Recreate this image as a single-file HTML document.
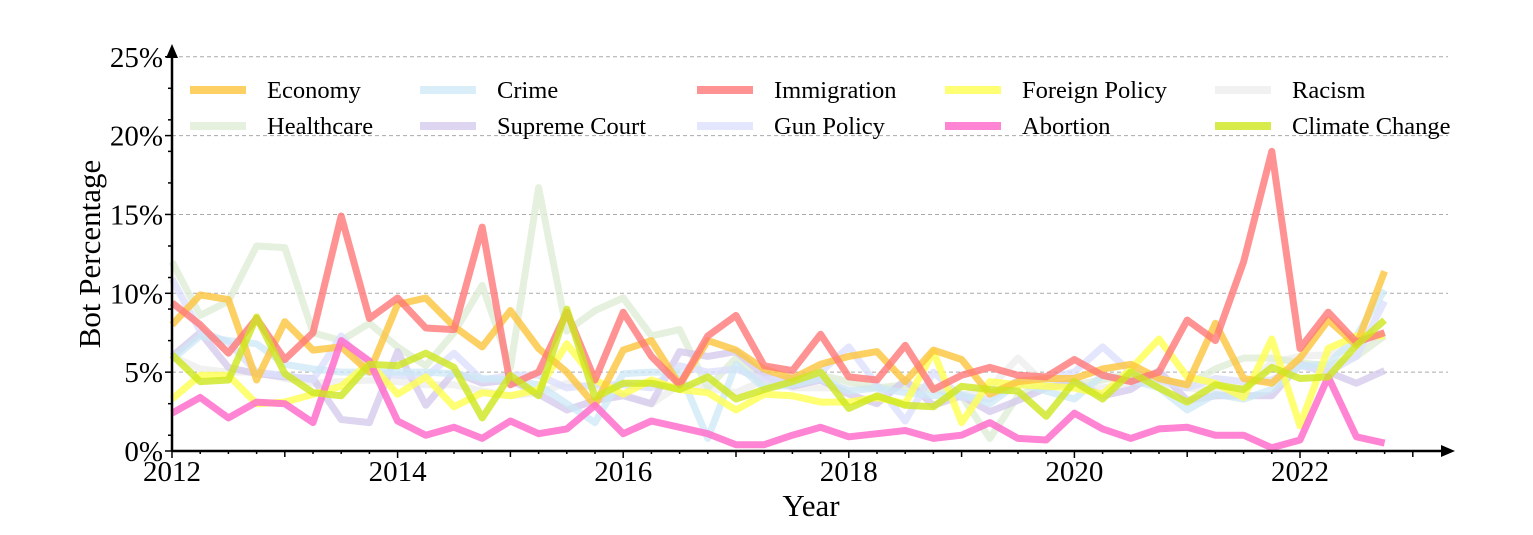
<!DOCTYPE html>
<html><head><meta charset="utf-8"><style>
body{margin:0;background:#fff}
svg text{font-family:"Liberation Serif",serif;fill:#000}
</style></head><body>
<svg id="chart" width="1533" height="530" xmlns="http://www.w3.org/2000/svg">
<g id="grid"></g>
<g id="series"></g>
<g id="axes"></g>
<g id="legend"></g>
<text x="0" y="0" font-size="31" text-anchor="middle" transform="translate(100,254) rotate(-90)">Bot Percentage</text>
<text x="811" y="516" font-size="31" text-anchor="middle">Year</text>
</svg>
<script>
const startYear = 2012;
const yTicks = [0,5,10,15,20,25];
const xTickYears = [2012,2014,2016,2018,2020,2022];
const seriesNames = ["Economy","Healthcare","Crime","Supreme Court","Immigration","Gun Policy","Foreign Policy","Abortion","Racism","Climate Change"];
const economy = [8.0,9.9,9.6,4.5,8.2,6.4,6.6,5.0,9.3,9.7,7.9,6.6,8.9,6.5,5.0,2.9,6.4,7.0,4.2,7.0,6.4,5.2,4.6,5.5,6.0,6.3,4.4,6.4,5.8,3.6,4.4,4.6,4.6,5.2,5.5,4.6,4.2,8.1,4.6,4.3,5.9,8.3,6.7,11.4];
const healthcare = [12.0,8.6,9.5,13.0,12.9,7.5,7.0,8.1,6.6,5.4,7.5,10.5,5.3,16.7,7.6,8.9,9.7,7.3,7.7,4.0,5.9,4.1,4.5,4.8,4.4,4.0,4.2,3.9,3.5,0.8,3.5,4.3,4.2,4.5,4.9,4.5,4.2,5.2,5.9,5.9,5.6,5.4,6.0,7.3];
const crime = [5.8,7.3,7.0,6.8,5.5,5.2,5.0,5.0,5.0,5.0,4.9,4.6,4.5,4.2,3.0,1.8,4.9,5.0,5.0,0.8,5.5,4.0,4.2,4.6,3.8,4.0,3.7,3.5,3.6,3.0,4.3,3.8,3.3,4.8,4.5,4.0,2.6,3.6,3.3,3.9,5.4,5.5,7.3,10.2];
const supremeCourt = [6.0,7.5,5.3,4.9,4.7,4.6,2.0,1.8,6.3,2.9,5.0,4.3,4.5,3.6,2.6,3.2,3.5,3.0,6.3,6.0,6.3,4.8,4.1,4.5,3.6,3.0,4.5,2.9,3.5,2.5,3.2,4.0,4.4,3.5,3.9,5.1,3.2,3.5,3.5,3.5,5.5,5.0,4.3,5.1];
const immigration = [9.4,8.0,6.2,8.4,5.8,7.5,14.9,8.4,9.7,7.8,7.7,14.2,4.2,5.0,8.8,4.5,8.8,6.0,4.2,7.3,8.6,5.4,5.1,7.4,4.7,4.5,6.7,3.9,4.8,5.3,4.8,4.7,5.8,4.8,4.4,5.0,8.3,7.0,12.0,19.0,6.5,8.8,6.9,7.5];
const gunPolicy = [10.9,7.6,6.9,5.0,4.8,4.5,7.3,5.0,4.8,4.7,6.2,4.5,4.8,4.8,4.0,4.2,4.2,4.0,5.4,5.0,5.2,4.5,4.6,5.0,6.6,4.2,1.9,5.0,3.4,3.3,4.5,4.6,5.0,6.6,5.0,4.5,4.0,4.6,4.4,4.5,5.4,5.0,6.0,9.5];
const foreignPolicy = [3.3,4.8,4.8,3.0,3.1,3.6,4.1,5.6,3.6,4.7,2.8,3.7,3.5,3.9,6.8,4.5,3.6,4.5,3.9,3.7,2.6,3.6,3.5,3.1,3.1,3.4,3.0,6.3,1.8,4.4,4.2,4.1,4.0,3.6,5.2,7.1,4.7,4.3,3.4,7.1,1.6,6.5,7.3,7.3];
const abortion = [2.4,3.4,2.1,3.1,3.0,1.8,7.0,5.7,1.9,1.0,1.5,0.8,1.9,1.1,1.4,2.9,1.1,1.9,1.5,1.1,0.4,0.4,1.0,1.5,0.9,1.1,1.3,0.8,1.0,1.8,0.8,0.7,2.4,1.4,0.8,1.4,1.5,1.0,1.0,0.2,0.7,4.7,0.9,0.5];
const racism = [6.0,5.2,5.0,5.0,4.6,4.3,4.4,4.5,4.4,4.2,4.2,3.8,3.5,3.7,4.3,4.0,3.6,3.0,4.2,4.0,3.7,4.5,4.0,4.0,4.0,4.0,4.0,4.0,3.5,4.0,5.9,4.2,4.0,4.0,4.3,4.3,4.0,3.8,4.0,5.6,6.0,6.1,6.6,7.5];
const climateChange = [6.1,4.4,4.5,8.5,4.9,3.7,3.5,5.5,5.4,6.2,5.3,2.1,4.8,3.5,9.0,3.4,4.3,4.3,3.9,4.7,3.3,3.9,4.4,5.0,2.7,3.5,2.9,2.8,4.1,3.9,3.8,2.2,4.4,3.3,5.0,4.0,3.1,4.2,3.9,5.3,4.6,4.7,6.7,8.3];

const NS="http://www.w3.org/2000/svg";
const X0=172, Y0=451, PXY=112.8, PXP=15.77;
const xs=t=>X0+(t-startYear)*PXY;
const ys=v=>Y0-v*PXP;
function mk(tag,attrs,parent){const e=document.createElementNS(NS,tag);for(const k in attrs)e.setAttribute(k,attrs[k]);parent.appendChild(e);return e;}
const grid=document.getElementById('grid'),axes=document.getElementById('axes'),ser=document.getElementById('series'),leg=document.getElementById('legend');
yTicks.forEach(v=>{
  if(v>0){const g=mk('line',{x1:X0,x2:1448,y1:ys(v),y2:ys(v),stroke:'#aaa','stroke-width':1,'stroke-dasharray':'4,3'},grid);
  
  }
  const t=mk('text',{x:X0-9,y:ys(v)+10,'font-size':29,'text-anchor':'end'},axes);t.textContent=v+'%';
  
  
});
for(let v=0;v<=25;v++){if(v%5===0||v%2===1)mk('line',{x1:X0-(v%5?4:7),x2:X0,y1:ys(v),y2:ys(v),stroke:'#000','stroke-width':1.5},axes);}
for(let q=0;q<=44;q++){const yr=startYear+q/4;mk('line',{x1:xs(yr),x2:xs(yr),y1:Y0,y2:Y0+(q%8===0?7:(q%4===0?6:3)),stroke:'#000','stroke-width':1.5},axes);}
xTickYears.forEach(y=>{const t=mk('text',{x:xs(y),y:Y0+30,'font-size':29,'text-anchor':'middle'},axes);t.textContent=y;
  
  });
const palette={"Economy":"rgba(252,196,60,0.8)","Healthcare":"rgba(222,238,214,0.8)","Crime":"rgba(204,232,245,0.75)","Supreme Court":"rgba(214,204,236,0.8)","Immigration":"rgba(255,120,120,0.8)","Gun Policy":"rgba(220,224,252,0.8)","Foreign Policy":"rgba(255,255,80,0.8)","Abortion":"rgba(255,110,205,0.85)","Racism":"rgba(238,238,238,0.8)","Climate Change":"rgba(205,230,30,0.8)"};
const dataMap={"Economy":economy,"Healthcare":healthcare,"Crime":crime,"Supreme Court":supremeCourt,"Immigration":immigration,"Gun Policy":gunPolicy,"Foreign Policy":foreignPolicy,"Abortion":abortion,"Racism":racism,"Climate Change":climateChange};
const drawOrder=["Racism","Healthcare","Supreme Court","Gun Policy","Crime","Foreign Policy","Economy","Immigration","Abortion","Climate Change"];
drawOrder.forEach(n=>{const d=dataMap[n];const pts=d.map((v,i)=>xs(startYear+i/4).toFixed(1)+','+ys(v).toFixed(1)).join(' ');
  const p=mk('polyline',{points:pts,fill:'none',stroke:palette[n],'stroke-width':7,'stroke-linejoin':'round'},ser);
  
  });
mk('line',{x1:X0,x2:X0,y1:Y0,y2:56,stroke:'#000','stroke-width':2.5},axes);
mk('polygon',{points:`${X0-6},58 ${X0+6},58 ${X0},44`,fill:'#000'},axes);
mk('line',{x1:X0,x2:1442,y1:Y0,y2:Y0,stroke:'#000','stroke-width':2.5},axes);
mk('polygon',{points:`1441,${Y0-6} 1441,${Y0+6} 1455,${Y0}`,fill:'#000'},axes);
const legendOrder=["Economy","Crime","Immigration","Foreign Policy","Racism","Healthcare","Supreme Court","Gun Policy","Abortion","Climate Change"];
const colX=[190,420,697,945,1215];
legendOrder.forEach((n,i)=>{const cx=colX[i%5],cy=i<5?90:126;
  const g=mk('g',{},leg);
  
  
  mk('line',{x1:cx,x2:cx+56,y1:cy,y2:cy,stroke:palette[n],'stroke-width':8},g);
  const t=mk('text',{x:cx+77,y:cy+8,'font-size':24.5},g);t.textContent=n;});
</script>
</body></html>
